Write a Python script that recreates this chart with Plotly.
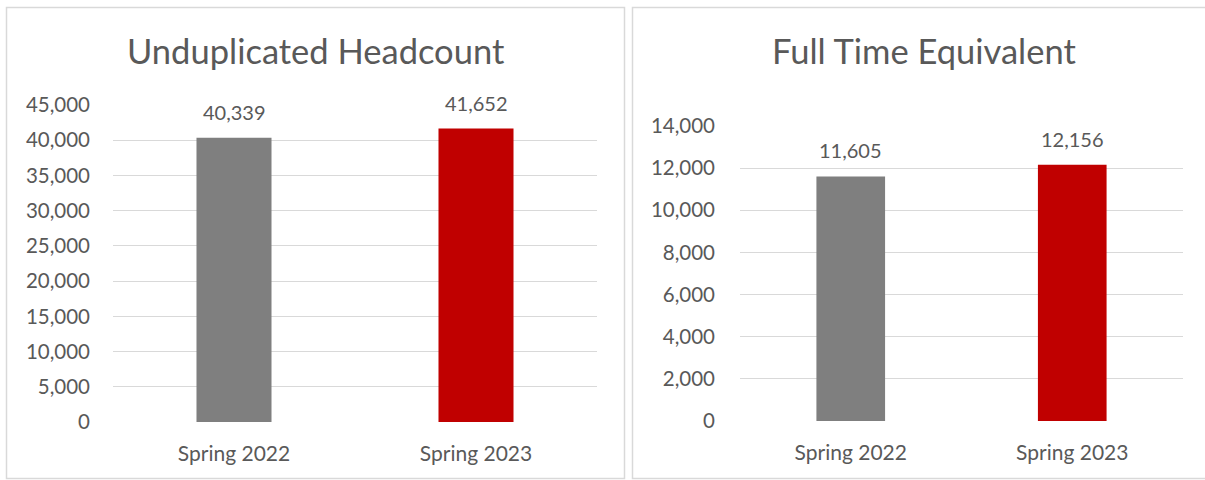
import plotly.graph_objects as go

categories = ["Spring 2022", "Spring 2023"]
headcount = [40339, 41652]
fte = [11605, 12156]
bar_colors = ["#7f7f7f", "#c00000"]
titles = ["Unduplicated Headcount", "Full Time Equivalent"]
hc_ticks = [0, 5000, 10000, 15000, 20000, 25000, 30000, 35000, 40000, 45000]
fte_ticks = [0, 2000, 4000, 6000, 8000, 10000, 12000, 14000]

W, H = 1205, 480
FONT = "Lato, 'Open Sans', sans-serif"
TXT = "#595959"
GRID = "#d9d9d9"

def px(x):
    return x / W

def py(y):
    return 1 - y / H

fig = go.Figure()
fig.add_trace(go.Bar(x=categories, y=headcount, marker_color=bar_colors, width=0.31,
                     xaxis="x", yaxis="y", showlegend=False, hoverinfo="x+y"))
fig.add_trace(go.Bar(x=categories, y=fte, marker_color=bar_colors, width=0.31,
                     xaxis="x2", yaxis="y2", showlegend=False, hoverinfo="x+y"))

annotations = [
    dict(text=titles[0], xref="paper", yref="paper", x=px(316), y=py(51), showarrow=False,
         xanchor="center", yanchor="middle", font=dict(size=34.5, color=TXT, family=FONT)),
    dict(text=titles[1], xref="paper", yref="paper", x=px(924), y=py(51), showarrow=False,
         xanchor="center", yanchor="middle", font=dict(size=34.5, color=TXT, family=FONT)),
]
for c, v in zip(categories, headcount):
    annotations.append(dict(text=f"{v:,}", x=c, y=v, xref="x", yref="y", showarrow=False,
                            xanchor="center", yanchor="bottom", yshift=12,
                            font=dict(size=20, color=TXT, family=FONT)))
for c, v in zip(categories, fte):
    annotations.append(dict(text=f"{v:,}", x=c, y=v, xref="x2", yref="y2", showarrow=False,
                            xanchor="center", yanchor="bottom", yshift=12,
                            font=dict(size=20, color=TXT, family=FONT)))

axis_common = dict(showline=False, zeroline=False, ticks="", automargin=False)
fig.update_layout(
    template="none",
    width=W, height=H, margin=dict(l=0, r=0, t=0, b=0, pad=0, autoexpand=False),
    paper_bgcolor="white", plot_bgcolor="white",
    xaxis=dict(domain=[px(113), px(597)], anchor="y", showgrid=False, ticklabelstandoff=17,
               tickfont=dict(size=21, color=TXT, family=FONT), **axis_common),
    yaxis=dict(domain=[py(422), py(105)], anchor="x", range=[0, 45000], tickvals=hc_ticks,
               tickformat=",", showgrid=True, gridcolor=GRID, gridwidth=1, ticklabelstandoff=22,
               tickfont=dict(size=20.5, color=TXT, family=FONT), **axis_common),
    xaxis2=dict(domain=[px(740), px(1183)], anchor="y2", showgrid=False, ticklabelstandoff=17,
                tickfont=dict(size=21, color=TXT, family=FONT), **axis_common),
    yaxis2=dict(domain=[py(421), py(126)], anchor="x2", range=[0, 14000], tickvals=fte_ticks,
                tickformat=",", showgrid=True, gridcolor=GRID, gridwidth=1, ticklabelstandoff=24,
                tickfont=dict(size=20.5, color=TXT, family=FONT), **axis_common),
    bargap=0.69,
    shapes=[
        dict(type="rect", xref="paper", yref="paper", x0=px(6.5), x1=px(624.5), y0=py(478.5), y1=py(7.5),
             line=dict(color=GRID, width=1.5)),
        dict(type="rect", xref="paper", yref="paper", x0=px(632.5), x1=px(1215), y0=py(478.5), y1=py(7.5),
             line=dict(color=GRID, width=1.5)),
    ],
    annotations=annotations,
)
fig.write_html("out.html", config={"displayModeBar": False},
               post_script="document.body.style.margin='0';document.body.style.overflow='hidden';")
